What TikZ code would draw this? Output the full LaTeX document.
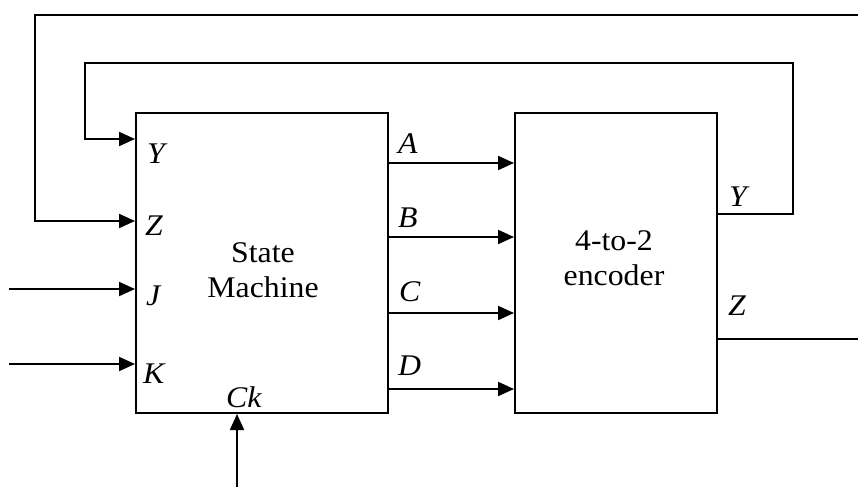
\documentclass[tikz,border=0pt]{standalone}
\usepackage{fontspec}
\setmainfont[FakeStretch=1.06]{Liberation Serif}
\usetikzlibrary{arrows.meta}
\begin{document}
\begin{tikzpicture}[x=1pt,y=-1pt,
  box/.style={draw,line width=2pt,minimum width=#1,inner sep=0pt,minimum height=300pt},
  wire/.style={line width=2pt},
  arr/.style={wire,-{Triangle[length=16pt,width=14pt]}},
  lbl/.style={font=\fontsize{30}{36}\selectfont\itshape,anchor=base west,inner sep=0pt},
  txt/.style={font=\fontsize{30}{35}\selectfont,align=center,anchor=base,inner sep=0pt}]
\useasboundingbox (0,0) rectangle (858,487);
\node[box=252pt] (sm) at (262,263) {};
\node[box=202pt] (enc) at (616,263) {};
\node[txt] (smt) at (263,297) {State\\Machine};
\node[txt] (enct) at (614,285) {4-to-2\\encoder};
% outputs of state machine
\foreach \n/\y in {a/163,b/237,c/313,d/389}{
  \coordinate (\n) at (450,\y);
  \draw[arr] (sm.east |- \n) -- (enc.west |- \n);
}
\node[lbl] (la) at (398,153) {A};
\node[lbl] (lb) at (398,227) {B};
\node[lbl] (lc) at (399,301) {C};
\node[lbl] (ld) at (398,375) {D};
% feedback Y
\coordinate (yo) at (793,214);
\coordinate (yt) at (793,63);
\coordinate (yl) at (85,63);
\coordinate (yi) at (85,139);
\draw[arr] (enc.east |- yo) -- (yo) -- (yt) -- (yl) -- (yi) -- (sm.west |- yi);
% Z output and feedback
\coordinate (zo) at (858,339);
\coordinate (zt) at (858,15);
\coordinate (zl) at (35,15);
\coordinate (zi) at (35,221);
\draw[wire] (enc.east |- zo) -- (zo);
\draw[arr] (zt) -- (zl) -- (zi) -- (sm.west |- zi);
\node[lbl] (lyo) at (729,206) {Y};
\node[lbl] (lzo) at (728,315) {Z};
% inputs
\coordinate (j) at (9,289);
\coordinate (k) at (9,364);
\draw[arr] (j) -- (sm.west |- j);
\draw[arr] (k) -- (sm.west |- k);
\coordinate (ck) at (237,487);
\draw[arr] (ck) -- (sm.south -| ck);
\node[lbl] (ly) at (147,163) {Y};
\node[lbl] (lz) at (145,235) {Z};
\node[lbl] (lj) at (146,305) {J};
\node[lbl] (lk) at (143,383) {K};
\node[lbl] (lck) at (226,407) {Ck};
\end{tikzpicture}
\end{document}
